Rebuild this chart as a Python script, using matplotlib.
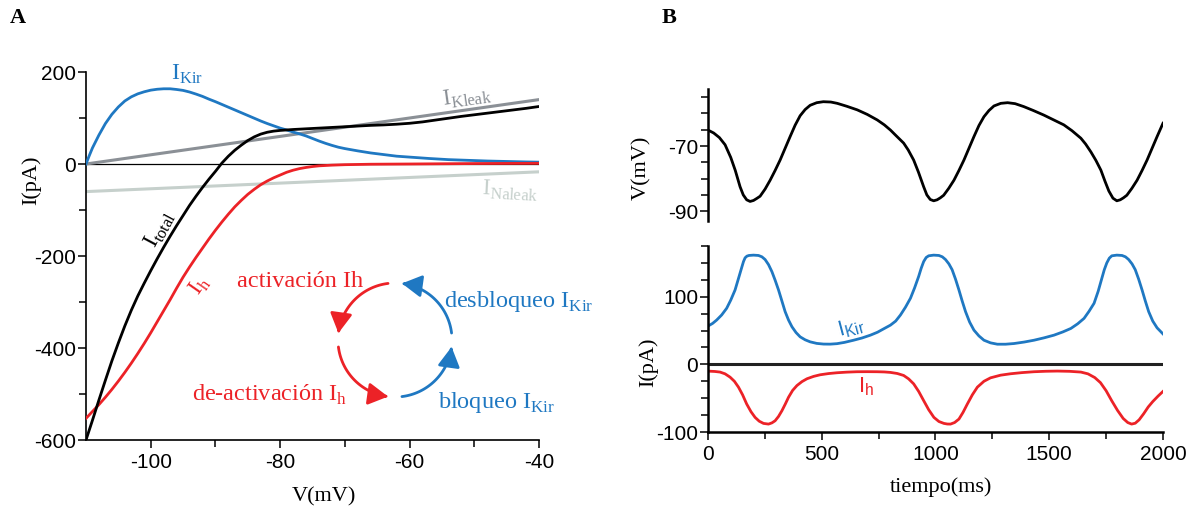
import numpy as np
import matplotlib
matplotlib.use('Agg')
import matplotlib.pyplot as plt
from matplotlib.patches import FancyArrowPatch
from matplotlib.path import Path
from matplotlib.ticker import FixedLocator

plt.rcParams['font.family'] = ['Liberation Sans', 'DejaVu Sans']
plt.rcParams['mathtext.fontset'] = 'custom'
plt.rcParams['mathtext.rm'] = 'Liberation Serif'
plt.rcParams['mathtext.sf'] = 'Liberation Sans'
plt.rcParams['axes.unicode_minus'] = False

# ---- panel A: I-V curves (V in mV, I in pA) ----
kir_v = [-110, -109.5, -109, -108, -107, -106, -105, -104, -103, -102, -101, -100, -99,
         -98, -97, -96, -95, -94, -93, -92, -91, -90, -89, -88, -87, -86, -85, -84, -83,
         -82, -81, -80, -79, -78, -77, -76, -75, -74, -73, -72, -71, -70, -68, -66, -64,
         -62, -60, -57, -54, -51, -48, -45, -42, -40]
kir_i = [0, 18, 35, 63, 88, 108, 124, 137, 146, 152.5, 157, 160.5, 162.5, 163.5, 163.5,
         162, 160, 156.5, 152, 147, 141, 135.5, 129.5, 123.5, 117.5, 111.5, 105.5, 99.5,
         93.5, 88, 83, 78, 74, 69.5, 65.5, 61, 55.5, 50, 45, 40.5, 36.5, 33.5, 28.5, 24,
         20.5, 17, 15, 12, 9.5, 8, 6.5, 5.5, 4.5, 4]

kleak_v = [-110, -40]
kleak_i = [0, 140]
naleak_v = [-110, -40]
naleak_i = [-60, -17]

ih_v = [-110, -109, -108, -107, -106, -105, -104, -103, -102, -101, -100, -99, -98, -97,
        -96, -95, -94, -93, -92, -91, -90, -89, -88, -87, -86, -85, -84, -83, -82, -81,
        -80, -79, -78, -77, -76, -75, -74, -72, -70, -66, -60, -50, -40]
ih_i = [-553, -538, -523, -507, -490, -472, -453, -433, -412, -390, -367, -343, -319,
        -295, -270, -246, -224, -203, -183, -163, -144, -126, -109, -93, -79, -66, -55,
        -45, -37, -30, -24, -18, -13.5, -10, -7.5, -5.5, -4, -2.5, -1.5, -0.5, 0, 1, 1.5]

tot_v = [-110, -109, -108, -107, -106, -105, -104, -103, -102, -101, -100, -99, -98, -97,
         -96, -95, -94, -93, -92, -91, -90, -89, -88, -87, -86, -85, -84, -83, -82, -81,
         -80, -78, -76, -74, -72, -70, -68, -66, -64, -62, -60, -58, -56, -54, -52, -50,
         -48, -46, -44, -42, -40]
tot_i = [-600, -557, -513, -470, -428, -389, -352, -318, -287, -259, -232, -206, -181,
         -157, -134, -112, -90, -70, -51, -33, -16, 2, 17, 30, 41, 51, 59, 65, 69, 71.5,
         73, 75, 76.5, 78, 79.5, 81, 82.5, 84, 85, 86.5, 88.5, 91.5, 95.5, 99.5, 103.5,
         107, 110.5, 114, 117.5, 121, 125]

# ---- panel B: time courses (ms) ----
t_v = [0, 25, 50, 75, 100, 120, 141, 155, 170, 185, 200, 214, 229, 251, 273, 295, 317,
       339, 361, 383, 405, 427, 449, 478, 507, 540, 568, 610, 656, 700, 744, 775, 802,
       825, 860, 880, 904, 925, 948, 962, 977, 992, 1007, 1021, 1036, 1058, 1081, 1103,
       1125, 1147, 1169, 1191, 1213, 1235, 1257, 1287, 1317, 1350, 1388, 1430, 1476,
       1520, 1564, 1600, 1639, 1660, 1683, 1705, 1727, 1745, 1762, 1780, 1797, 1812,
       1826, 1841, 1863, 1886, 1908, 1930, 1952, 1974, 2000]
memb_v = [-65.1, -66.0, -67.4, -69.6, -73.5, -77.5, -82.5, -85.0, -86.5, -87.0, -86.7,
          -86.1, -85.4, -83.2, -80.5, -77.5, -74.3, -70.7, -67.1, -63.6, -60.7, -58.8,
          -57.5, -56.7, -56.4, -56.5, -56.9, -57.8, -58.9, -60.3, -62.0, -63.5, -65.1,
          -66.7, -69.1, -71.2, -74.3, -78.0, -82.5, -85.0, -86.4, -86.8, -86.5, -85.9,
          -85.1, -83.0, -80.5, -77.5, -74.3, -70.7, -67.1, -63.7, -61.0, -59.1, -57.7,
          -56.9, -56.7, -57.0, -57.9, -59.1, -60.5, -62.0, -63.5, -65.3, -67.6, -69.4,
          -71.8, -74.4, -77.4, -80.8, -83.8, -86.0, -86.8, -86.5, -85.9, -85.1, -83.0,
          -80.5, -77.5, -74.3, -70.7, -67.1, -63.0]

t_kir = [0, 20, 38, 60, 82, 100, 119, 134, 148, 156, 163, 171, 180, 200, 222, 237, 251,
         266, 281, 295, 310, 325, 339, 354, 369, 387, 405, 427, 449, 478, 508, 537, 567,
         600, 640, 677, 714, 745, 772, 802, 825, 846, 868, 890, 908, 926, 937, 948, 959,
         970, 992, 1015, 1030, 1044, 1059, 1073, 1088, 1103, 1117, 1132, 1150, 1169,
         1191, 1213, 1242, 1272, 1308, 1345, 1390, 1433, 1477, 1521, 1560, 1595, 1625,
         1653, 1675, 1697, 1715, 1731, 1742, 1753, 1764, 1775, 1797, 1820, 1835, 1849,
         1864, 1878, 1893, 1908, 1922, 1937, 1955, 1974, 2000]
kir_t = [56.6, 60.5, 65.5, 73, 82.9, 95, 110, 127, 143, 152, 157.5, 160, 161, 161.5, 161,
         159, 155, 147.5, 137, 124.5, 110, 93.5, 78, 65.5, 55.6, 47, 40.7, 36.3, 33.3, 31,
         30, 29.9, 30.6, 32.5, 35.7, 39, 43.2, 47.5, 52.5, 58, 64, 73, 84.5, 97.8, 113,
         130, 142, 152, 158, 160.5, 161.5, 161, 159, 155, 148.5, 140, 126, 110, 94, 78,
         62.5, 50.6, 42, 35.7, 31.8, 29.8, 29.8, 30.8, 33, 35.7, 39.2, 43.2, 48, 53.1, 60,
         68, 78.5, 90.3, 108, 127, 140, 150, 157, 160.5, 161.5, 161, 159, 155, 148.5, 140,
         126, 110, 94, 78, 64, 54, 45]

t_h = [0, 30, 53, 75, 97, 116, 134, 152, 170, 189, 207, 225, 244, 266, 281, 295, 310,
       325, 340, 354, 372, 391, 413, 435, 464, 493, 530, 567, 610, 655, 700, 743, 775,
       802, 832, 860, 882, 904, 926, 948, 970, 993, 1015, 1037, 1052, 1066, 1084, 1103,
       1121, 1140, 1162, 1184, 1213, 1242, 1286, 1330, 1380, 1433, 1485, 1536, 1590,
       1639, 1670, 1700, 1725, 1750, 1775, 1800, 1825, 1845, 1862, 1878, 1895, 1915,
       1935, 1955, 1978, 2000]
h_t = [-10, -10.5, -11.4, -14, -18.9, -25, -33.7, -45, -58.6, -70, -78.4, -84, -87.3,
       -88.3, -86.5, -83.4, -77, -68.5, -58.5, -48.6, -38.5, -31.3, -25.5, -21.3, -17.8,
       -15.4, -13.6, -12.4, -11.5, -10.9, -10.8, -10.9, -11.2, -11.9, -13.5, -16.4, -21.5,
       -28.8, -40, -53.6, -67, -78.4, -84.5, -87.3, -88.2, -88.3, -86, -80.9, -71, -58.6,
       -45, -33.7, -25, -19.9, -16, -13.9, -12.2, -10.9, -10.2, -9.9, -10.3, -11.4, -14,
       -19.5, -27, -39, -54, -68, -80, -86, -88.3, -87, -82, -73, -63, -55, -47, -40]

BLUE = '#1f78c2'
RED = '#ec2227'
GRAY = '#8b9096'
LIGHT = '#c6d0cc'
SERIF = 'Liberation Serif'

W, H = 1197, 512
fig = plt.figure(figsize=(W / 100, H / 100), dpi=100)


def px_rect(x0, y0, x1, y1):
    return [x0 / W, 1 - y1 / H, (x1 - x0) / W, (y1 - y0) / H]


def ftext(x, y, s, **kw):
    kw.setdefault('ha', 'center')
    kw.setdefault('va', 'center')
    fig.text(x / W, 1 - y / H, s, **kw)


def style_axis(ax, lw):
    for side in ['top', 'right']:
        ax.spines[side].set_visible(False)
    for side in ['left', 'bottom']:
        ax.spines[side].set_linewidth(lw)
    ax.tick_params(which='major', direction='out', length=6, width=1.1, labelsize=15, pad=1)
    ax.tick_params(which='minor', direction='out', length=5, width=1.1)


# ---------------- Panel A ----------------
axA = fig.add_axes(px_rect(86, 72, 539, 440))
style_axis(axA, 1.2)
axA.set_xlim(-110, -40)
axA.set_ylim(-600, 200)
axA.xaxis.set_major_locator(FixedLocator([-100, -80, -60, -40]))
axA.xaxis.set_minor_locator(FixedLocator([-90, -70, -50]))
axA.yaxis.set_major_locator(FixedLocator([-600, -400, -200, 0, 200]))
axA.yaxis.set_minor_locator(FixedLocator([-500, -300, -100, 100]))
axA.tick_params(axis='x', pad=3)

axA.axhline(0, color='black', lw=0.9, zorder=1)
axA.plot(naleak_v, naleak_i, color=LIGHT, lw=2.2, zorder=2)
axA.plot(kleak_v, kleak_i, color=GRAY, lw=2.2, zorder=2)
axA.plot(kir_v, kir_i, color=BLUE, lw=2, zorder=3)
axA.plot(ih_v, ih_i, color=RED, lw=2, zorder=3)
axA.plot(tot_v, tot_i, color='black', lw=2, zorder=4)

lab = dict(fontsize=17, family=SERIF, ha='center', va='center')
axA.text(-94.4, 195, r'I$_{\mathrm{Kir}}$', color=BLUE, **lab)
axA.text(-51.1, 145, r'I$_{\mathrm{Kleak}}$', color=GRAY, rotation=8, **lab)
axA.text(-44.5, -58, r'I$_{\mathrm{Naleak}}$', color=LIGHT, rotation=-3, **lab)
axA.text(-98.6, -142, r'I$_{\mathrm{total}}$', color='black', rotation=62, **lab)
axA.text(-92.4, -265, r'I$_{\mathrm{h}}$', color=RED, rotation=55, **lab)

cyc = dict(fontsize=17.5, family=SERIF, ha='center', va='center')
axA.text(-76.9, -255, 'activación Ih', color=RED, **cyc)
axA.text(-81.6, -502, r'de-activación I$_{\mathrm{h}}$', color=RED, **cyc)
axA.text(-43.2, -298, r'desbloqueo I$_{\mathrm{Kir}}$', color=BLUE, **cyc)
axA.text(-46.5, -519, r'bloqueo I$_{\mathrm{Kir}}$', color=BLUE, **cyc)

# cycle arrows
axC = fig.add_axes(px_rect(320, 265, 470, 415))
axC.set_xlim(-1, 1)
axC.set_ylim(-1, 1)
axC.axis('off')
r = 0.76
for a0, a1, col in [(97, 173, RED), (187, 263, RED), (277, 353, BLUE), (7, 83, BLUE)]:
    ang = np.radians(np.linspace(a0, a1, 40))
    verts = np.column_stack([r * np.cos(ang), r * np.sin(ang)])
    arr = FancyArrowPatch(path=Path(verts), arrowstyle='-|>,head_length=0.8,head_width=0.45',
                          mutation_scale=15, color=col, lw=2)
    axC.add_patch(arr)

# ---------------- Panel B ----------------
axV = fig.add_axes(px_rect(708, 89, 1163, 221))
style_axis(axV, 1.8)
axV.spines['bottom'].set_visible(False)
axV.set_xlim(0, 2000)
axV.set_ylim(-93, -52.5)
axV.set_xticks([])
axV.yaxis.set_major_locator(FixedLocator([-90, -70]))
axV.yaxis.set_minor_locator(FixedLocator([-85, -80, -75, -65, -60, -55]))
axV.plot(t_v, memb_v, color='black', lw=2)

axI = fig.add_axes(px_rect(708, 246, 1163, 432))
style_axis(axI, 1.8)
axI.set_xlim(0, 2000)
axI.set_ylim(-100, 175)
axI.xaxis.set_major_locator(FixedLocator([0, 500, 1000, 1500, 2000]))
axI.xaxis.set_minor_locator(FixedLocator([250, 750, 1250, 1750]))
axI.yaxis.set_major_locator(FixedLocator([-100, 0, 100]))
axI.yaxis.set_minor_locator(FixedLocator([-75, -50, -25, 25, 50, 75, 125, 150, 175]))
axI.tick_params(axis='x', pad=3)
axI.axhline(0, color='#222222', lw=2.2, zorder=1)
axI.plot(t_kir, kir_t, color=BLUE, lw=2)
axI.plot(t_h, h_t, color=RED, lw=2)
axI.text(629, 55, r'I$_{\mathsf{Kir}}$', color=BLUE, fontsize=16, ha='center',
         va='center', rotation=15)
axI.text(695, -33, r'I$_{\mathsf{h}}$', color=RED, fontsize=16, ha='center', va='center')

# ---------------- figure labels ----------------
ftext(18, 18, 'A', family=SERIF, fontsize=16, fontweight='bold')
ftext(669, 18, 'B', family=SERIF, fontsize=16, fontweight='bold')
ftext(31, 180, 'I(pA)', family=SERIF, fontsize=16, rotation=90)
ftext(324, 497, 'V(mV)', family=SERIF, fontsize=16)
ftext(642, 168, 'V(mV)', family=SERIF, fontsize=16, rotation=90)
ftext(648, 362, 'I(pA)', family=SERIF, fontsize=16, rotation=90)
ftext(941, 487, 'tiempo(ms)', family=SERIF, fontsize=16)

fig.savefig('out.png', dpi=100)
